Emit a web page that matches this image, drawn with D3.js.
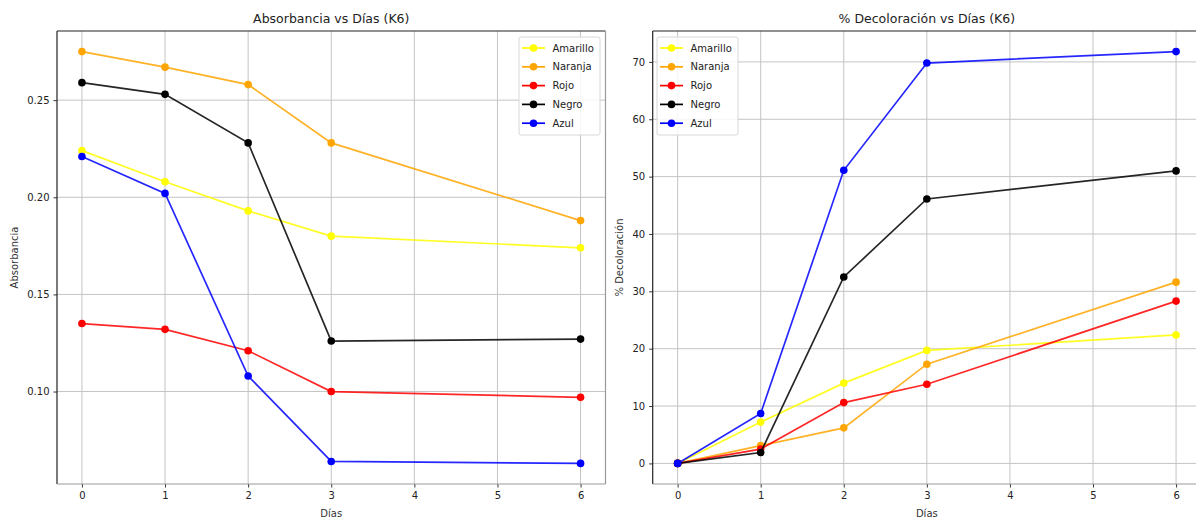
<!DOCTYPE html>
<html>
<head>
<meta charset="utf-8">
<script src="https://cdn.jsdelivr.net/npm/d3@7"></script>
<style>
  html, body { margin: 0; padding: 0; background: #fff; }
  svg { display: block; font-family: "DejaVu Sans", sans-serif; }
</style>
</head>
<body>
<svg id="chart" width="1196" height="520"></svg>
<script>
// ---- data ----
const days = [0, 1, 2, 3, 6];
const seriesNames = ["Amarillo", "Naranja", "Rojo", "Negro", "Azul"];
const seriesColors = ["#ffff00", "#ffa500", "#ff0000", "#000000", "#0000ff"];

const absAmarillo = [0.224, 0.208, 0.193, 0.180, 0.174];
const absNaranja  = [0.275, 0.267, 0.258, 0.228, 0.188];
const absRojo     = [0.135, 0.132, 0.121, 0.100, 0.097];
const absNegro    = [0.259, 0.253, 0.228, 0.126, 0.127];
const absAzul     = [0.221, 0.202, 0.108, 0.064, 0.063];

const decAmarillo = [0, 7.2, 14.0, 19.7, 22.4];
const decNaranja  = [0, 3.1, 6.2, 17.3, 31.6];
const decRojo     = [0, 2.5, 10.6, 13.8, 28.3];
const decNegro    = [0, 1.9, 32.5, 46.1, 51.0];
const decAzul     = [0, 8.7, 51.1, 69.8, 71.8];

const xTicks = [0, 1, 2, 3, 4, 5, 6];
const absTicks = [0.10, 0.15, 0.20, 0.25];
const decTicks = [0, 10, 20, 30, 40, 50, 60, 70];

const titles = ["Absorbancia vs Días (K6)", "% Decoloración vs Días (K6)"];
const yLabels = ["Absorbancia", "% Decoloración"];
const xLabel = "Días";

// ---- drawing ----
const svg = d3.select("#chart");

function padDomain(vals) {
  const lo = d3.min(vals), hi = d3.max(vals);
  const m = (hi - lo) * 0.05;
  return [lo - m, hi + m];
}

function panel(opts) {
  const { left, right, top, bottom, data, yTicks, yFmt, title, yLabel, legend, yLabelX } = opts;
  const g = svg.append("g");
  const x = d3.scaleLinear().domain(padDomain(days)).range([left, right]);
  const allY = data.flat();
  const y = d3.scaleLinear().domain(padDomain(allY)).range([bottom, top]);

  const clipId = "clip" + Math.round(left);
  svg.append("clipPath").attr("id", clipId)
    .append("rect").attr("x", left).attr("y", top).attr("width", right - left).attr("height", bottom - top);

  // grid
  g.append("g").selectAll("line").data(xTicks).join("line")
    .attr("x1", d => x(d)).attr("x2", d => x(d)).attr("y1", top).attr("y2", bottom)
    .attr("stroke", "#c4c4c4").attr("stroke-width", 1);
  g.append("g").selectAll("line").data(yTicks).join("line")
    .attr("x1", left).attr("x2", right).attr("y1", d => y(d)).attr("y2", d => y(d))
    .attr("stroke", "#c4c4c4").attr("stroke-width", 1);

  // axes
  const xAxis = d3.axisBottom(x).tickValues(xTicks).tickFormat(d3.format("d")).tickSize(3.5).tickPadding(4);
  const ax = g.append("g").attr("transform", `translate(0,${bottom})`).call(xAxis);
  const yAxis = d3.axisLeft(y).tickValues(yTicks).tickFormat(yFmt).tickSize(3.5).tickPadding(4);
  const ay = g.append("g").attr("transform", `translate(${left},0)`).call(yAxis);
  [ax, ay].forEach(a => {
    a.select(".domain").remove();
    a.selectAll(".tick line").attr("stroke", "#333");
    a.selectAll(".tick text").attr("fill", "#222").attr("font-size", 10).attr("font-family", "DejaVu Sans");
  });

  // spines
  g.append("line").attr("x1", left).attr("x2", left).attr("y1", top).attr("y2", bottom).attr("stroke", "#222").attr("stroke-width", 1.2);
  g.append("line").attr("x1", left).attr("x2", right).attr("y1", top).attr("y2", top).attr("stroke", "#222").attr("stroke-width", 1.2);
  g.append("line").attr("x1", right).attr("x2", right).attr("y1", top).attr("y2", bottom).attr("stroke", "#999").attr("stroke-width", 1.2);
  g.append("line").attr("x1", left).attr("x2", right).attr("y1", bottom).attr("y2", bottom).attr("stroke", "#999").attr("stroke-width", 1.2);

  // series
  const line = d3.line().x((d, i) => x(days[i])).y(d => y(d));
  const sg = g.append("g").attr("clip-path", `url(#${clipId})`);
  data.forEach((vals, si) => {
    sg.append("path").datum(vals).attr("d", line)
      .attr("fill", "none").attr("stroke", seriesColors[si]).attr("stroke-width", 1.7).attr("stroke-opacity", 0.85);
    sg.append("g").selectAll("circle").data(vals).join("circle")
      .attr("cx", (d, i) => x(days[i])).attr("cy", d => y(d)).attr("r", 3.8)
      .attr("fill", seriesColors[si]);
  });

  // title
  g.append("text").attr("x", (left + right) / 2).attr("y", 23).attr("text-anchor", "middle")
    .attr("font-size", 12.5).attr("fill", "#222").text(title);
  // x label
  g.append("text").attr("x", (left + right) / 2).attr("y", 517).attr("text-anchor", "middle")
    .attr("font-size", 10).attr("fill", "#333").text(xLabel);
  // y label
  g.append("text").attr("transform", `translate(${yLabelX},${(top + bottom) / 2}) rotate(-90)`)
    .attr("text-anchor", "middle").attr("font-size", 10).attr("fill", "#333").text(yLabel);

  // legend
  const lg = g.append("g").attr("transform", `translate(${legend.x},${legend.y})`);
  lg.append("rect").attr("x", 0).attr("y", 0).attr("width", legend.w).attr("height", 98)
    .attr("rx", 2).attr("fill", "#fff").attr("fill-opacity", 0.85).attr("stroke", "#d8d8d8");
  seriesNames.forEach((name, i) => {
    const yy = 11 + i * 18.8;
    lg.append("line").attr("x1", 3).attr("x2", 26).attr("y1", yy).attr("y2", yy)
      .attr("stroke", seriesColors[i]).attr("stroke-width", 1.7);
    lg.append("circle").attr("cx", 14.5).attr("cy", yy).attr("r", 3.8).attr("fill", seriesColors[i]);
    lg.append("text").attr("x", 33.5).attr("y", yy + 3.6).attr("font-size", 10).attr("fill", "#222").text(name);
  });
}

panel({
  left: 57, right: 605.5, top: 31, bottom: 484,
  data: [absAmarillo, absNaranja, absRojo, absNegro, absAzul],
  yTicks: absTicks, yFmt: d3.format(".2f"),
  title: titles[0], yLabel: yLabels[0], yLabelX: 18,
  legend: { x: 519, y: 37, w: 81 }
});

panel({
  left: 652.7, right: 1201, top: 31, bottom: 484,
  data: [decAmarillo, decNaranja, decRojo, decNegro, decAzul],
  yTicks: decTicks, yFmt: d3.format("d"),
  title: titles[1], yLabel: yLabels[1], yLabelX: 623,
  legend: { x: 657, y: 37, w: 81 }
});
</script>
</body>
</html>
